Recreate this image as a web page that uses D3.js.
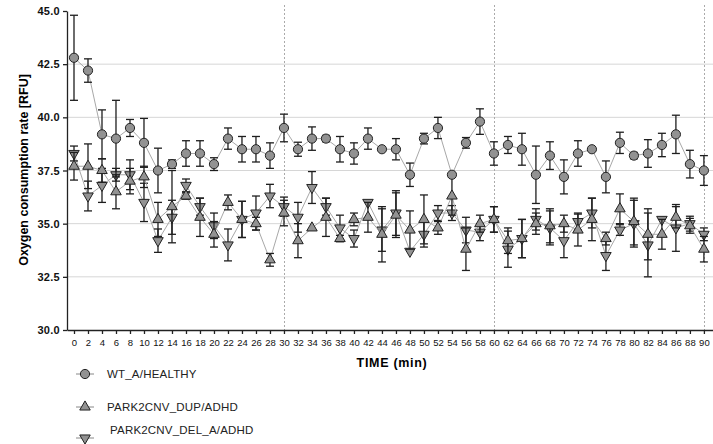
<!DOCTYPE html>
<html>
<head>
<meta charset="utf-8">
<script src="https://cdn.jsdelivr.net/npm/d3@7"></script>
<style>
body { margin: 0; background: #fff; }
svg { display: block; font-family: "Liberation Sans", Arial, sans-serif; }
</style>
</head>
<body>
<div id="canvas-body"></div>
<script>
// time points (min)
var times = d3.range(0, 91, 2);

// WT_A/HEALTHY
var wtMean = [42.8, 42.2, 39.2, 39.0, 39.5, 38.8, 37.5, 37.8, 38.3, 38.3,
              37.8, 39.0, 38.5, 38.5, 38.2, 39.5, 38.5, 39.0, 39.0, 38.5,
              38.3, 39.0, 38.5, 38.5, 37.3, 39.0, 39.5, 37.3, 38.8, 39.8,
              38.3, 38.7, 38.5, 37.3, 38.2, 37.2, 38.3, 38.5, 37.2, 38.8,
              38.2, 38.3, 38.7, 39.2, 37.8, 37.5];
var wtErr = [2.0, 0.55, 1.15, 1.8, 0.4, 1.15, 1.05, 0.2, 0.6, 0.6,
             0.3, 0.5, 0.6, 0.6, 0.6, 0.65, 0.33, 0.55, 0.15, 0.6,
             0.5, 0.5, 0.1, 0.5, 0.55, 0.25, 0.5, 0.1, 0.25, 0.6,
             0.55, 0.4, 0.75, 1.35, 0.65, 0.8, 0.6, 0.1, 0.75, 0.5,
             0.15, 0.65, 0.55, 0.9, 0.65, 0.7];

// PARK2CNV_DUP/ADHD
var dupMean = [37.7, 37.7, 37.5, 36.5, 37.0, 37.2, 35.2, 35.8, 36.3, 35.3,
               34.5, 36.0, 35.2, 35.0, 33.3, 35.5, 34.2, 34.8, 35.3, 34.3,
               35.2, 35.3, 34.5, 35.4, 34.7, 35.2, 34.8, 36.3, 33.8, 35.0,
               35.2, 34.2, 34.3, 35.0, 34.9, 35.0, 34.7, 35.2, 34.3, 35.7,
               35.1, 34.5, 34.5, 35.3, 34.9, 33.8];
var dupErr = [0.65, 1.05, 0.55, 0.8, 0.6, 0.5, 0.8, 1.7, 0.15, 0.9,
              0.6, 0.35, 0.85, 0.3, 0.3, 0.6, 0.8, 0.1, 0.9, 0.15,
              0.3, 0.7, 1.3, 1.05, 0.9, 1.15, 0.3, 0.9, 1.0, 0.4,
              0.6, 0.6, 0.9, 0.5, 0.8, 0.4, 0.75, 1.0, 0.3, 0.7,
              1.1, 1.2, 0.7, 0.5, 0.35, 0.6];

// PARK2CNV_DEL_A/ADHD
var delMean = [38.3, 36.3, 36.8, 37.3, 37.3, 36.0, 34.2, 35.3, 36.8, 35.8,
               34.9, 34.0, 35.2, 35.5, 36.3, 35.8, 35.3, 36.7, 35.8, 34.8,
               34.3, 36.0, 34.7, 35.5, 33.7, 34.5, 35.5, 35.5, 34.7, 34.6,
               35.2, 33.8, 34.3, 35.2, 34.8, 34.2, 35.1, 35.5, 33.5, 34.7,
               35.0, 34.0, 35.2, 34.8, 35.0, 34.5];
var delErr = [0.35, 0.7, 0.8, 0.3, 0.7, 0.9, 0.55, 0.8, 0.3, 0.4,
              0.6, 0.75, 0.85, 0.8, 0.55, 0.45, 0.7, 0.75, 0.4, 0.6,
              0.4, 0.1, 1.0, 1.05, 0.1, 0.6, 0.35, 0.35, 0.6, 0.4,
              0.6, 0.85, 0.9, 0.5, 0.8, 0.8, 0.4, 0.7, 0.7, 0.25,
              1.1, 1.5, 0.1, 1.1, 0.35, 0.3];

var seriesNames = ["WT_A/HEALTHY", "PARK2CNV_DUP/ADHD", "PARK2CNV_DEL_A/ADHD"];
var yTicks = [30, 32.5, 35, 37.5, 40, 42.5, 45];
var xTicks = d3.range(0, 91, 2);
var dividers = [30, 60, 90];

const width = 713, height = 444;

var s = d3.select("#canvas-body")
            .append("svg")
            .attr("width", width)
            .attr("height", height);

// scales
var x = d3.scaleLinear().domain([-1, 91.3]).range([67, 713]);
var y = d3.scaleLinear().domain([30, 45]).range([330, 11]);

// horizontal grid
s.append("g").selectAll("line")
    .data(yTicks.filter(function(d){ return d > 30 && d < 45; }))
    .enter().append("line")
    .attr("x1", 67).attr("x2", 713)
    .attr("y1", function(d){ return y(d); })
    .attr("y2", function(d){ return y(d); })
    .attr("stroke", "#d6d6d6")
    .attr("stroke-width", 1);

// dotted dividers
s.append("g").selectAll("line")
    .data(dividers)
    .enter().append("line")
    .attr("x1", function(d){ return Math.round(x(d)) + 0.5; })
    .attr("x2", function(d){ return Math.round(x(d)) + 0.5; })
    .attr("y1", 5).attr("y2", 330)
    .attr("stroke", "#aaa")
    .attr("stroke-dasharray", "2,2")
    .attr("stroke-width", 1);

// axes
var xaxis = d3.axisBottom(x).tickValues(xTicks).tickSize(4).tickSizeOuter(0)
                .tickFormat(d3.format("d"));
var gx = s.append("g")
    .attr("transform", "translate(0,330)")
    .call(xaxis);
gx.selectAll("text").attr("font-size", "9.5px").attr("fill", "#111")
    .attr("font-family", "'Liberation Sans', Arial, sans-serif").attr("dy", "0.9em");

var yaxis = d3.axisLeft(y).tickValues(yTicks).tickSize(4).tickSizeOuter(0)
                .tickFormat(d3.format(".1f"));
var gy = s.append("g")
    .attr("transform", "translate(67,0)")
    .call(yaxis);
gy.selectAll("text").attr("font-size", "11px").attr("font-weight", "bold")
    .attr("letter-spacing", "0.3px")
    .attr("fill", "#111").attr("font-family", "'Liberation Sans', Arial, sans-serif");
s.selectAll(".domain, .tick line").attr("stroke", "#222").attr("stroke-width", 1.3);

// axis titles
s.append("text")
    .attr("transform", "translate(28,170) rotate(-90)")
    .attr("text-anchor", "middle")
    .attr("font-size", "12.5px")
    .attr("font-weight", "bold")
    .text("Oxygen consumption rate [RFU]");
s.append("text")
    .attr("x", 392).attr("y", 367)
    .attr("text-anchor", "middle")
    .attr("font-size", "12.5px")
    .attr("font-weight", "bold")
    .attr("letter-spacing", "0.7px")
    .text("TIME (min)");

// series
var series = [
    {name: seriesNames[2], mean: delMean, err: delErr, shape: "down"},
    {name: seriesNames[1], mean: dupMean, err: dupErr, shape: "up"},
    {name: seriesNames[0], mean: wtMean, err: wtErr, shape: "circle"}
];

var linefunc = d3.line()
                .x(function(d){ return x(d[0]); })
                .y(function(d){ return y(d[1]); });

function marker(sel, shape){
    if(shape === "circle"){
        sel.append("circle").attr("r", 4.6);
    } else {
        sel.append("path")
            .attr("d", d3.symbol().type(d3.symbolTriangle).size(48)())
            .attr("transform", shape === "down" ? "rotate(180)" : null);
    }
    sel.selectAll("circle, path")
        .attr("fill", "#929292")
        .attr("stroke", "#222")
        .attr("stroke-width", 1);
}

series.forEach(function(sr){
    var pts = times.map(function(t, i){ return [t, sr.mean[i], sr.err[i]]; });
    s.append("path")
        .attr("d", linefunc(pts))
        .attr("fill", "none")
        .attr("stroke", "#a8a8a8")
        .attr("stroke-width", 1);
    var eb = s.append("g").selectAll("g")
        .data(pts).enter().append("g")
        .attr("stroke", "#1e1e1e")
        .attr("stroke-width", 1.3);
    eb.append("line")
        .attr("x1", function(d){ return x(d[0]); })
        .attr("x2", function(d){ return x(d[0]); })
        .attr("y1", function(d){ return y(d[1] - d[2]); })
        .attr("y2", function(d){ return y(d[1] + d[2]); });
    [-1, 1].forEach(function(sg){
        eb.append("line")
            .attr("x1", function(d){ return x(d[0]) - 4; })
            .attr("x2", function(d){ return x(d[0]) + 4; })
            .attr("y1", function(d){ return y(d[1] + sg * d[2]); })
            .attr("y2", function(d){ return y(d[1] + sg * d[2]); })
            .attr("display", function(d){ return d[2] < 0.12 ? "none" : null; });
    });
    s.append("g").selectAll("g")
        .data(pts).enter().append("g")
        .attr("transform", function(d){ return "translate(" + x(d[0]) + "," + y(d[1]) + ")"; })
        .each(function(){ marker(d3.select(this), sr.shape); });
});

// legend
var legendRows = [
    {name: seriesNames[0], shape: "circle", my: 374, tx: 107, ty: 378},
    {name: seriesNames[1], shape: "up", my: 407, tx: 107, ty: 411},
    {name: seriesNames[2], shape: "down", my: 438, tx: 110, ty: 434}
];
var lg = s.append("g").selectAll("g")
    .data(legendRows).enter().append("g");
lg.append("line")
    .attr("x1", 76).attr("x2", 94)
    .attr("y1", function(d){ return d.my; })
    .attr("y2", function(d){ return d.my; })
    .attr("stroke", "#888").attr("stroke-width", 1);
lg.append("g")
    .attr("transform", function(d){ return "translate(85," + d.my + ")"; })
    .each(function(d){ marker(d3.select(this), d.shape); });
lg.append("text")
    .attr("x", function(d){ return d.tx; })
    .attr("y", function(d){ return d.ty; })
    .attr("font-size", "11.5px")
    .attr("letter-spacing", "0.2px")
    .attr("fill", "#222")
    .text(function(d){ return d.name; });
</script>
</body>
</html>
